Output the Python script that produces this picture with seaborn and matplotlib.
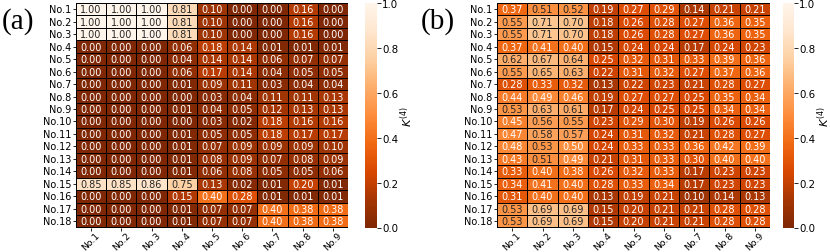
import numpy as np
import pandas as pd
import matplotlib
matplotlib.use('Agg')
import matplotlib.pyplot as plt
import seaborn as sns

# 행/열 라벨
rows = [f'No.{i}' for i in range(1, 19)]
cols = [f'No.{i}' for i in range(1, 10)]

# (a) 값
vals_a = [
    [1.00, 1.00, 1.00, 0.81, 0.10, 0.00, 0.00, 0.16, 0.00],
    [1.00, 1.00, 1.00, 0.81, 0.10, 0.00, 0.00, 0.16, 0.00],
    [1.00, 1.00, 1.00, 0.81, 0.10, 0.00, 0.00, 0.16, 0.00],
    [0.00, 0.00, 0.00, 0.06, 0.18, 0.14, 0.01, 0.01, 0.01],
    [0.00, 0.00, 0.00, 0.04, 0.14, 0.14, 0.06, 0.07, 0.07],
    [0.00, 0.00, 0.00, 0.06, 0.17, 0.14, 0.04, 0.05, 0.05],
    [0.00, 0.00, 0.00, 0.01, 0.09, 0.11, 0.03, 0.04, 0.04],
    [0.00, 0.00, 0.00, 0.00, 0.03, 0.04, 0.11, 0.11, 0.13],
    [0.00, 0.00, 0.00, 0.01, 0.04, 0.05, 0.12, 0.13, 0.13],
    [0.00, 0.00, 0.00, 0.00, 0.03, 0.02, 0.18, 0.16, 0.16],
    [0.00, 0.00, 0.00, 0.01, 0.05, 0.05, 0.18, 0.17, 0.17],
    [0.00, 0.00, 0.00, 0.01, 0.07, 0.09, 0.09, 0.09, 0.10],
    [0.00, 0.00, 0.00, 0.01, 0.08, 0.09, 0.07, 0.08, 0.09],
    [0.00, 0.00, 0.00, 0.01, 0.06, 0.08, 0.05, 0.05, 0.06],
    [0.85, 0.85, 0.86, 0.75, 0.13, 0.02, 0.01, 0.20, 0.01],
    [0.00, 0.00, 0.00, 0.15, 0.40, 0.28, 0.01, 0.01, 0.01],
    [0.00, 0.00, 0.00, 0.01, 0.07, 0.07, 0.40, 0.38, 0.38],
    [0.00, 0.00, 0.00, 0.01, 0.07, 0.07, 0.40, 0.38, 0.38],
]

# (b) 값
vals_b = [
    [0.37, 0.51, 0.52, 0.19, 0.27, 0.29, 0.14, 0.21, 0.21],
    [0.55, 0.71, 0.70, 0.18, 0.26, 0.28, 0.27, 0.36, 0.35],
    [0.55, 0.71, 0.70, 0.18, 0.26, 0.28, 0.27, 0.36, 0.35],
    [0.37, 0.41, 0.40, 0.15, 0.24, 0.24, 0.17, 0.24, 0.23],
    [0.62, 0.67, 0.64, 0.25, 0.32, 0.31, 0.33, 0.39, 0.36],
    [0.55, 0.65, 0.63, 0.22, 0.31, 0.32, 0.27, 0.37, 0.36],
    [0.28, 0.33, 0.32, 0.13, 0.22, 0.23, 0.21, 0.28, 0.27],
    [0.44, 0.49, 0.46, 0.19, 0.27, 0.27, 0.25, 0.35, 0.34],
    [0.53, 0.63, 0.61, 0.17, 0.24, 0.25, 0.25, 0.34, 0.34],
    [0.45, 0.56, 0.55, 0.23, 0.29, 0.30, 0.19, 0.26, 0.26],
    [0.47, 0.58, 0.57, 0.24, 0.31, 0.32, 0.21, 0.28, 0.27],
    [0.48, 0.53, 0.50, 0.24, 0.33, 0.33, 0.36, 0.42, 0.39],
    [0.43, 0.51, 0.49, 0.21, 0.31, 0.33, 0.30, 0.40, 0.40],
    [0.33, 0.40, 0.38, 0.26, 0.32, 0.33, 0.17, 0.23, 0.23],
    [0.34, 0.41, 0.40, 0.28, 0.33, 0.34, 0.17, 0.23, 0.23],
    [0.31, 0.40, 0.40, 0.13, 0.19, 0.21, 0.10, 0.14, 0.13],
    [0.53, 0.69, 0.69, 0.15, 0.20, 0.21, 0.21, 0.28, 0.28],
    [0.53, 0.69, 0.69, 0.15, 0.20, 0.21, 0.21, 0.28, 0.28],
]

df_a = pd.DataFrame(vals_a, index=rows, columns=cols)
df_b = pd.DataFrame(vals_b, index=rows, columns=cols)

fig = plt.figure(figsize=(8.3, 2.53), dpi=100)

# 축 위치 (픽셀 기준으로 맞춤)
W, H = 830, 253
def box(x0, x1, y0, y1):
    return [x0 / W, 1 - y1 / H, (x1 - x0) / W, (y1 - y0) / H]

top, bot = 4, 228.5
ax_a = fig.add_axes(box(76, 348, top, bot))
cax_a = fig.add_axes(box(365, 377, top, bot))
ax_b = fig.add_axes(box(497, 770, top, bot))
cax_b = fig.add_axes(box(783, 794, top, bot))

for ax, cax, df in [(ax_a, cax_a, df_a), (ax_b, cax_b, df_b)]:
    sns.heatmap(df, ax=ax, cbar_ax=cax, cmap='Oranges_r', vmin=0, vmax=1,
                annot=True, fmt='.2f', annot_kws={'size': 7},
                linewidths=0.5, linecolor='black',
                xticklabels=cols, yticklabels=rows)
    ax.set_xticklabels(cols, rotation=45, fontsize=6.7, ha='center')
    ax.set_yticklabels(rows, rotation=0, fontsize=7)
    ax.tick_params(axis='x', length=2, width=0.6, pad=0)
    ax.tick_params(axis='y', length=2.5, width=0.6, pad=1)
    cax.tick_params(labelsize=7.4, length=3, width=0.6, pad=0.8)
    cax.set_ylabel(r'$K^{(4)}$', fontsize=8.2, labelpad=0)
    cax.set_yticks([0, 0.2, 0.4, 0.6, 0.8, 1.0])
    cax.set_yticklabels(['0.0', '0.2', '0.4', '0.6', '0.8', '1.0'])

fig.text(18 / W, 1 - 22 / H, '(a)', fontsize=21, family='Liberation Serif',
         ha='center', va='center')
fig.text(438 / W, 1 - 22 / H, '(b)', fontsize=21, family='Liberation Serif',
         ha='center', va='center')

fig.savefig('out.png', dpi=100)
